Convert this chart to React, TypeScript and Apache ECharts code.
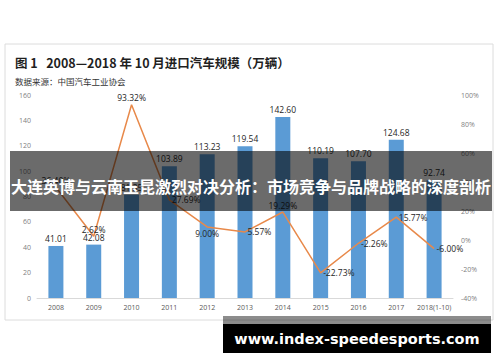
import React, { useEffect, useRef } from "react";
import * as echarts from "echarts";

const categories = ["2008", "2009", "2010", "2011", "2012", "2013", "2014", "2015", "2016", "2017", "2018(1-10)"];
const volumes = [41.01, 42.08, 81.35, 103.89, 113.23, 119.54, 142.6, 110.19, 107.7, 124.68, 92.74];
const growth = [36.4, 2.62, 93.32, 27.69, 9.0, 5.57, 19.29, -22.73, -2.26, 15.77, -6.0];
const growthLabelPos = ["top", "top", "top", "right", "bottom", "right", "top", "right", "right", "right", "right"];
const leftTicks = { min: 0, max: 160, interval: 20 };
const rightTicks = { min: -40, max: 100, interval: 20 };

const TITLE = "图 1   2008—2018 年 10 月进口汽车规模（万辆）";
const SOURCE = "数据来源：中国汽车工业协会";
const BANNER = "大连英博与云南玉昆激烈对决分析：市场竞争与品牌战略的深度剖析";
const WATERMARK = "www.index-speedesports.com";

export default function App() {
  const ref = useRef<HTMLDivElement>(null);
  useEffect(() => {
    if (!ref.current) return;
    const chart = echarts.init(ref.current, null, { renderer: "svg" });
    const labelFont = "'Open Sans', 'Noto Sans', sans-serif";
    chart.setOption({
      animation: false,
      backgroundColor: "#ffffff",
      grid: { left: 37, right: 47, top: 95, bottom: 64 },
      xAxis: {
        type: "category",
        data: categories,
        axisLine: { lineStyle: { color: "#d9d9d9" } },
        axisTick: { show: false },
        axisLabel: { fontSize: 7, color: "#595959", margin: 6, fontFamily: labelFont, interval: 0 },
      },
      yAxis: [
        {
          type: "value",
          ...leftTicks,
          axisLine: { show: false },
          axisTick: { show: false },
          splitLine: { show: false },
          axisLabel: { fontSize: 7, color: "#7f7f7f", margin: 6, fontFamily: labelFont },
        },
        {
          type: "value",
          ...rightTicks,
          position: "right",
          axisLine: { show: false },
          axisTick: { show: false },
          splitLine: { show: false },
          axisLabel: { fontSize: 7, color: "#7f7f7f", margin: 8, fontFamily: labelFont, formatter: "{value}%" },
        },
      ],
      series: [
        {
          type: "bar",
          data: volumes,
          barWidth: 15,
          itemStyle: { color: "#5b9bd5" },
          label: {
            show: true,
            position: "top",
            distance: 3,
            fontSize: 8.5,
            color: "#262626",
            fontFamily: labelFont,
            formatter: (p: any) => p.value.toFixed(2),
          },
        },
        {
          type: "line",
          yAxisIndex: 1,
          data: growth.map((v, i) => ({
            value: v,
            label: { show: true, position: growthLabelPos[i] },
          })),
          symbol: "circle",
          symbolSize: 1,
          showSymbol: true,
          itemStyle: { color: "rgba(0,0,0,0)" },
          lineStyle: { color: "#e8894a", width: 1.5 },
          label: {
            show: true,
            fontSize: 8.5,
            color: "#262626",
            distance: 2,
            fontFamily: labelFont,
            formatter: (p: any) => Number(p.value).toFixed(2) + "%",
          },
          z: 3,
        },
      ],
      graphic: [
        {
          type: "rect",
          shape: { x: 5, y: 44, width: 488, height: 276 },
          style: { fill: "none", stroke: "#dcdcdc", lineWidth: 1 },
          silent: true,
          z: 0,
        },
        {
          type: "text",
          x: 15,
          y: 56,
          style: { text: TITLE, fill: "#1f1f1f", font: "bold 12.5px 'Noto Sans CJK SC'" },
          z: 10,
        },
        {
          type: "text",
          x: 15,
          y: 77,
          style: { text: SOURCE, fill: "#333333", font: "8.5px 'Noto Sans CJK SC'" },
          z: 10,
        },
        {
          type: "rect",
          shape: { x: 10, y: 151, width: 482, height: 60 },
          style: { fill: "rgba(0,0,0,0.58)" },
          z: 100,
        },
        {
          type: "text",
          x: 251,
          y: 186,
          style: {
            text: BANNER,
            fill: "#ffffff",
            font: "bold 16px 'Noto Sans CJK SC'",
            textAlign: "center",
            textVerticalAlign: "middle",
          },
          z: 101,
        },
        {
          type: "rect",
          shape: { x: 223, y: 316, width: 268, height: 8 },
          style: { fill: "rgba(0,0,0,0.45)" },
          z: 100,
        },
        {
          type: "rect",
          shape: { x: 223, y: 324, width: 268, height: 29 },
          style: { fill: "#000000" },
          z: 100,
        },
        {
          type: "text",
          x: 357,
          y: 339,
          style: {
            text: WATERMARK,
            fill: "#ffffff",
            font: "bold 14.5px 'DejaVu Sans'",
            textAlign: "center",
            textVerticalAlign: "middle",
          },
          z: 101,
        },
      ],
    });
    return () => chart.dispose();
  }, []);
  return <div ref={ref} style={{ position: "fixed", left: 0, top: 0, width: 500, height: 362 }} />;
}
